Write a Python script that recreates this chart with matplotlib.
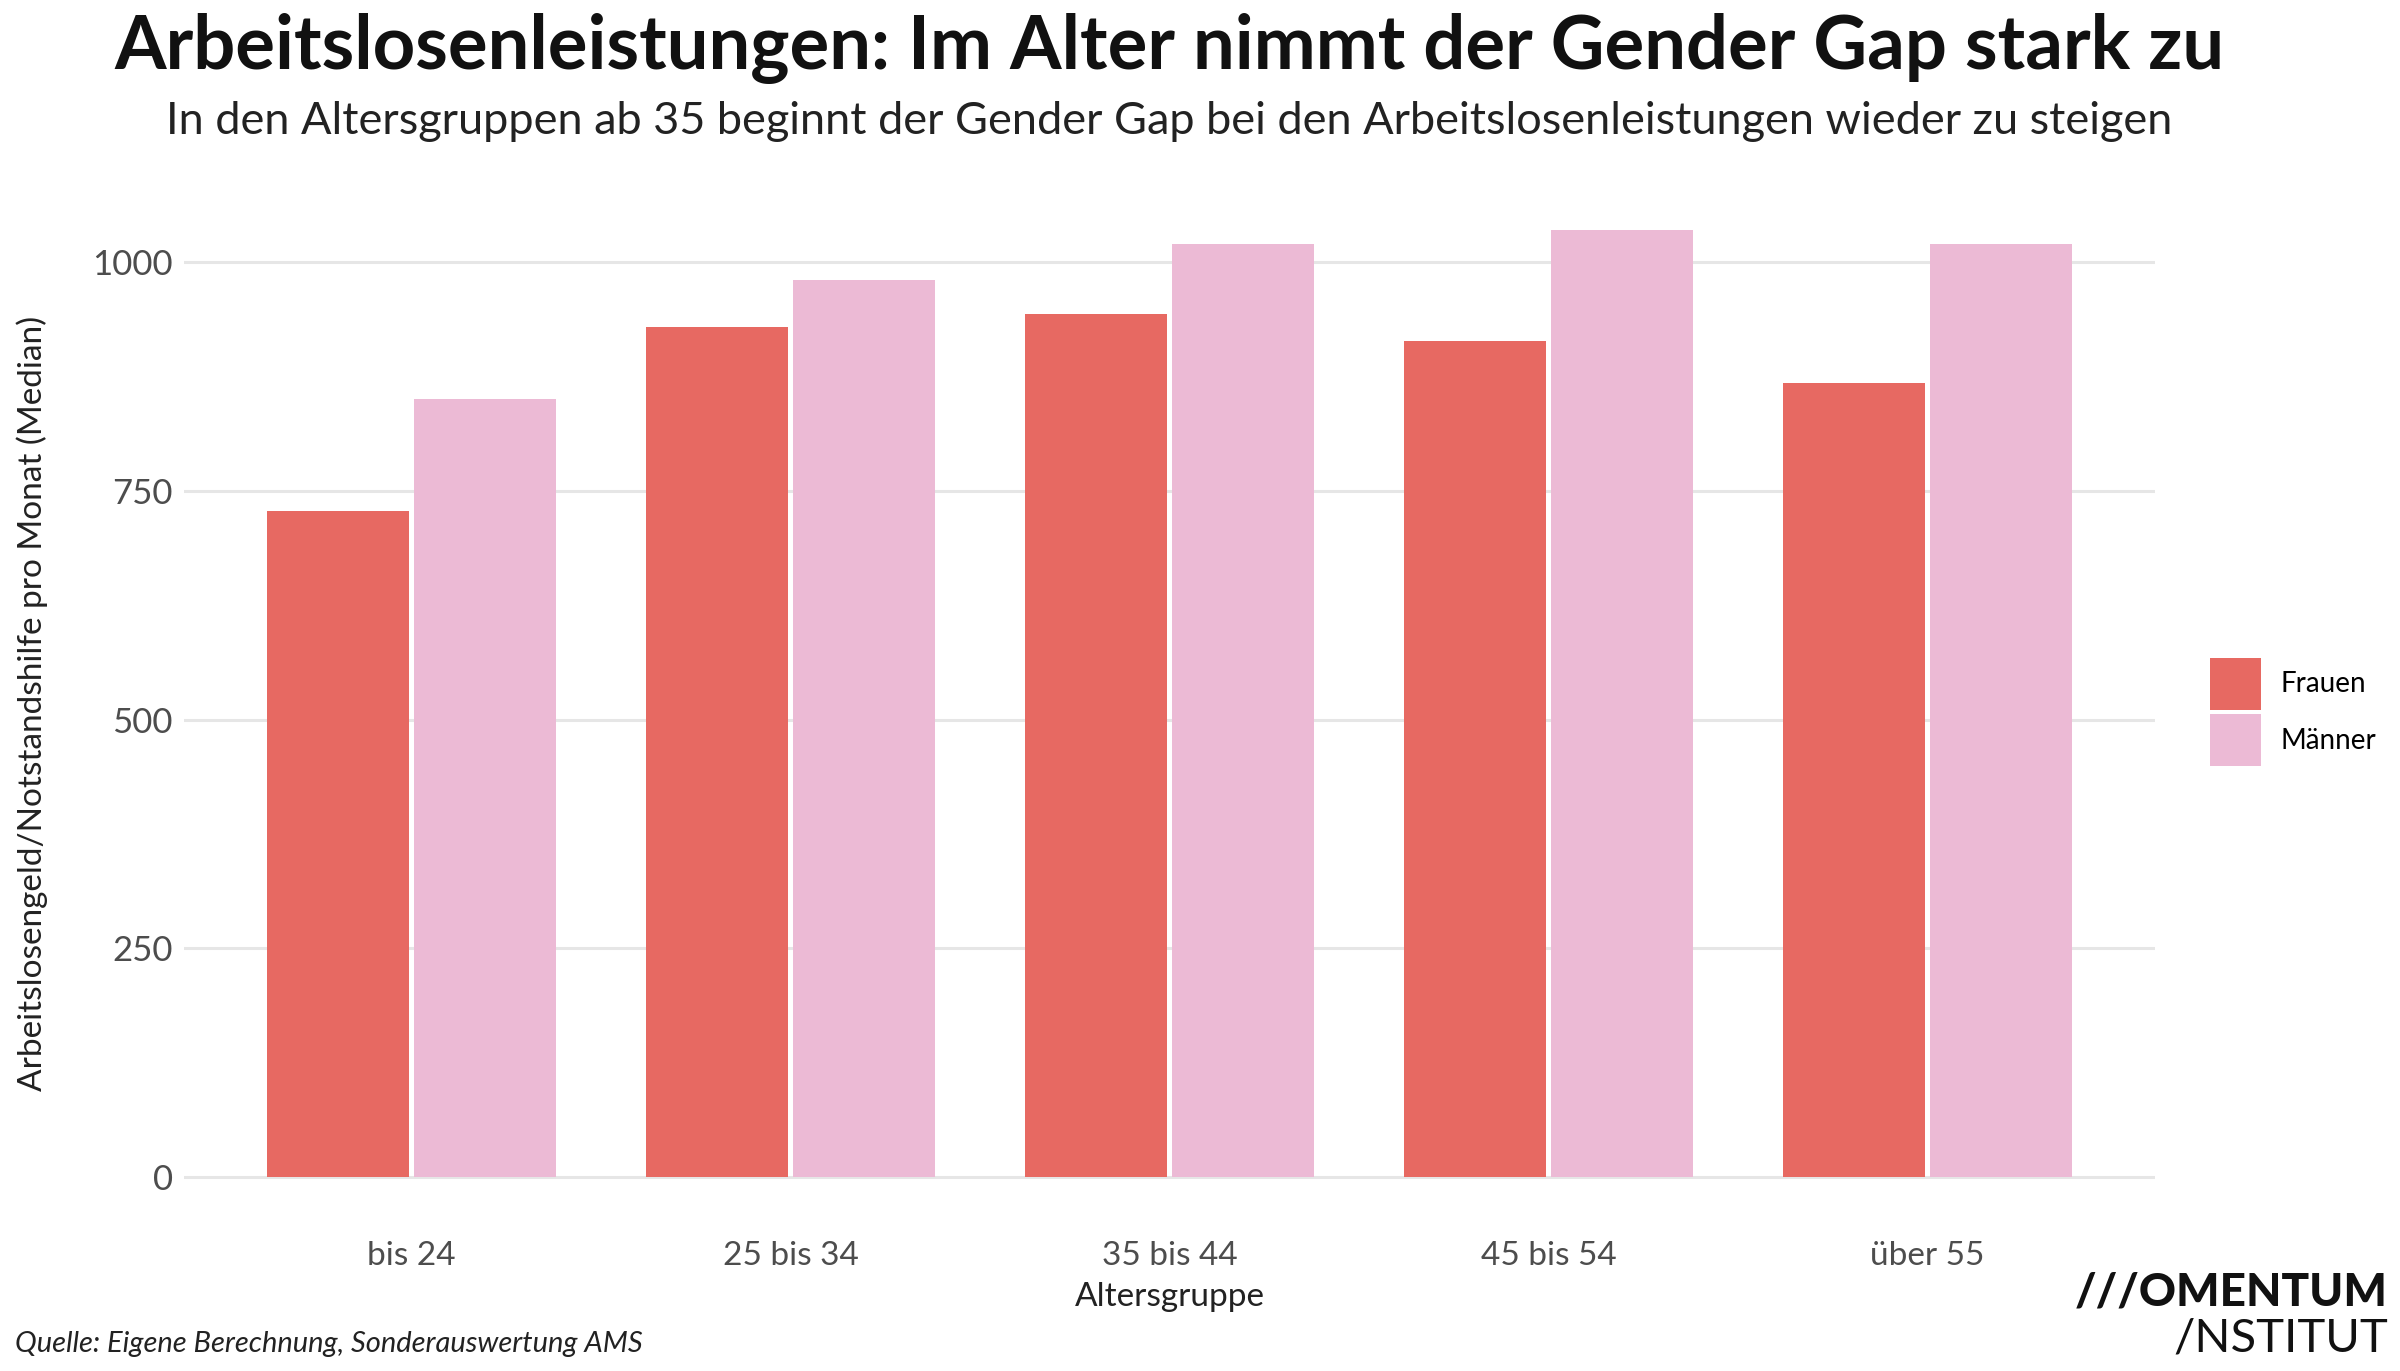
import matplotlib
matplotlib.use("Agg")
import matplotlib.pyplot as plt
import numpy as np
from matplotlib.patches import Patch

plt.rcParams["font.family"] = ["Lato", "DejaVu Sans"]

# data
age_groups = ["bis 24", "25 bis 34", "35 bis 44", "45 bis 54", "über 55"]
frauen = [728, 929, 944, 914, 868]
maenner = [850, 981, 1020, 1035, 1020]
series_labels = ["Frauen", "Männer"]
series_colors = ["#e76962", "#ecbad5"]
y_ticks = [0, 250, 500, 750, 1000]

title = "Arbeitslosenleistungen: Im Alter nimmt der Gender Gap stark zu"
subtitle = "In den Altersgruppen ab 35 beginnt der Gender Gap bei den Arbeitslosenleistungen wieder zu steigen"
caption = "Quelle: Eigene Berechnung, Sonderauswertung AMS"

fig = plt.figure(figsize=(24, 13.71), dpi=100)
ax = fig.add_axes([184 / 2400, 1 - 1224 / 1371, (2155 - 184) / 2400, (1224 - 183) / 1371])

x = np.arange(1, len(age_groups) + 1)
bw = 0.375
off = 0.1935
for vals, dx, col in [(frauen, -off, series_colors[0]), (maenner, off, series_colors[1])]:
    ax.bar(x + dx, vals, width=bw, color=col, zorder=2, linewidth=0)

ymax = max(max(frauen), max(maenner))
ax.set_ylim(-0.05 * ymax, ymax * 1.05)
ax.set_xlim(0.4, 5.6)
ax.set_yticks(y_ticks)
ax.set_yticklabels([str(t) for t in y_ticks])
ax.set_xticks(x)
ax.set_xticklabels(age_groups)
ax.grid(axis="y", color="#e6e6e6", linewidth=2.2, zorder=0)
ax.grid(axis="x", visible=False)
for s in ax.spines.values():
    s.set_visible(False)
ax.tick_params(length=0, labelsize=25, labelcolor="#4d4d4d", pad=8)
ax.tick_params(axis="x", labelsize=24, pad=12)

ax.set_xlabel("Altersgruppe", fontsize=24, color="#222222", labelpad=8)
ax.set_ylabel("Arbeitslosengeld/Notstandshilfe pro Monat (Median)", fontsize=24,
              color="#222222", labelpad=32)

handles = [Patch(facecolor=c, edgecolor="none") for c in series_colors]
fig.legend(handles, series_labels, loc="center left", bbox_to_anchor=(2196 / 2400, 1 - 712 / 1371),
           frameon=False, fontsize=20, handlelength=1.84, handleheight=2.5,
           handletextpad=0.7, labelspacing=0.15, borderpad=0)

cx = (184 + 2155) / 2 / 2400
fig.text(cx, 1 - 49 / 1371, title, ha="center", va="center", fontsize=53.5, fontweight="bold", color="#111111")
fig.text(cx, 1 - 121 / 1371, subtitle, ha="center", va="center", fontsize=32.5, color="#222222")
fig.text(15 / 2400, 1 - 1344 / 1371, caption, ha="left", va="center", fontsize=21, style="italic",
         color="#222222")

fig.text(2388 / 2400, 1 - 1293 / 1371, "///OMENTUM", ha="right", va="center", fontsize=33,
         fontweight="black", color="#111111")
fig.text(2388 / 2400, 1 - 1339 / 1371, "/NSTITUT", ha="right", va="center", fontsize=34,
         fontweight="normal", color="#111111")

fig.savefig("out.png", dpi=100)
